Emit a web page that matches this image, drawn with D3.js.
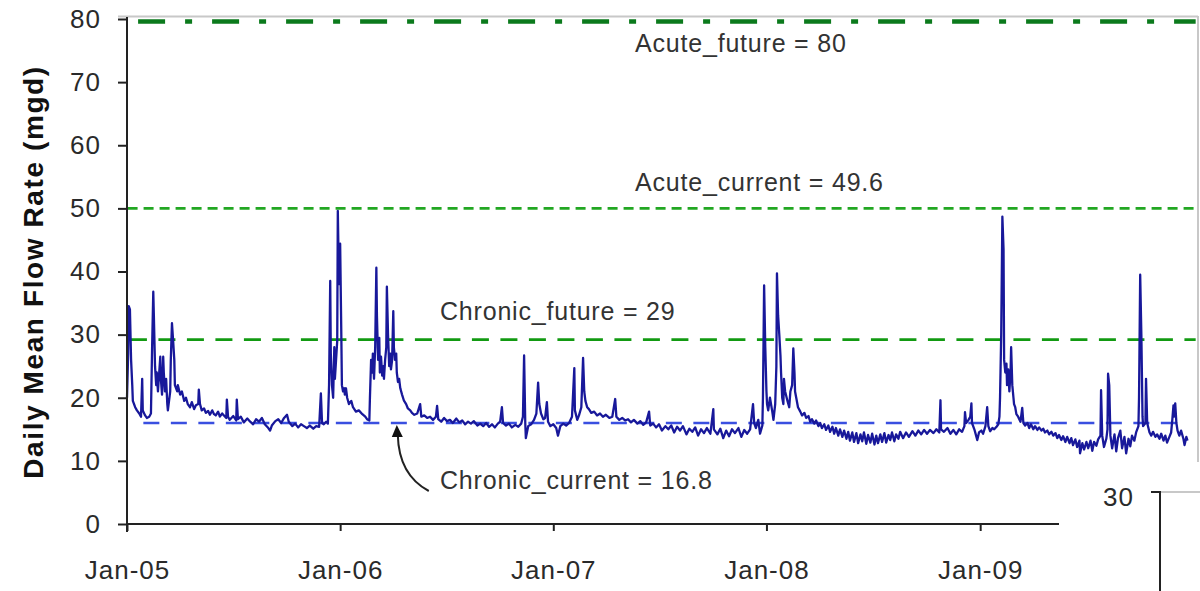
<!DOCTYPE html>
<html>
<head>
<meta charset="utf-8">
<script src="https://cdn.jsdelivr.net/npm/d3@7"></script>
<style>
  html, body { margin: 0; padding: 0; background: #ffffff; }
  svg { display: block; }
  text { font-family: "Liberation Sans", Arial, sans-serif; }
</style>
</head>
<body>
<svg id="chart" width="1200" height="591"></svg>
<script>
// ---------------- DATA ----------------
const startDate = new Date(2005, 0, 1);
const endDate = new Date(2010, 0, 9);
// x tick labels (January of each year)
const tickYears = [2005, 2006, 2007, 2008, 2009];
const tickLabels = ["Jan-05", "Jan-06", "Jan-07", "Jan-08", "Jan-09"];
// y ticks
const yTicks = [0, 10, 20, 30, 40, 50, 60, 70, 80];

// daily mean flow: [days since 1 Jan 2005, mgd]
const flowSeries = [
[0,20],[2,27],[3,34.5],[5,34],[7,26],[9,22],[10,19.5],[14,18.5],[17,18],[21,17.5],[24,17],[26,23],[27,18],[31,17.2],[34,16.8],[38,17],[41,17.5],[43,28],[45,36.8],[46,33],[48,25],[50,22],[51,24],[53,21],[57,26.5],[58,23],[60,20.5],[62,26.5],[63,24],[65,21],[67,23],[69,19],[70,18],[74,21],[75,26],[77,31.8],[79,29],[81,26],[82,22],[86,21],[87,22],[91,20.5],[94,21],[98,19.5],[101,20],[104,19],[108,18.5],[111,19.3],[115,18.2],[118,18.8],[122,19],[123,21.3],[125,19],[128,18],[132,18.3],[135,17.6],[139,17.9],[142,17.3],[146,18],[149,17.4],[152,17.2],[156,17.8],[159,17],[163,17.5],[166,17.2],[170,16.8],[171,19.7],[173,17],[176,16.5],[182,17.1],[187,16.4],[188,19.7],[190,16.6],[195,17],[200,16.1],[206,16.7],[211,16.2],[216,15.8],[221,16.6],[226,16.2],[231,16.8],[236,15.8],[242,15.2],[245,14.8],[248,15.6],[254,16.3],[259,16.6],[264,16],[269,16.8],[274,17.3],[277,16.2],[283,15.5],[288,15.9],[293,15.3],[298,15.8],[303,15.5],[308,15.2],[313,15.6],[319,15.1],[324,15.5],[329,15.4],[332,20.7],[334,16],[337,15.8],[341,16.2],[344,15.9],
[346,22],[348,38.5],[349,27],[351,22],[353,20],[355,28],[356,23],[358,26],[360,29],[361,49.6],[363,38],[365,44.4],[367,30],[368,22],[370,21],[372,21.5],[373,20.5],[375,21.5],[377,20],[380,19],[384,19.5],[387,18.5],[392,17.8],[397,18],[403,17.4],[408,17],[411,16.6],[415,16.4],[416,20],[418,26],[420,24],[421,27],[423,23],[425,28],[427,40.6],[428,33],[430,26],[432,29.5],[433,24],[435,26.5],[437,23.5],[439,25],[440,23],[442,26],[444,28],[445,37.6],[447,30],[449,25],[451,27],[452,24.5],[454,26],[456,33.7],[457,28],[459,26],[461,27],[462,24],[464,22.5],[466,23],[468,21.5],[471,20.5],[474,19.6],[478,19],[481,18.3],[485,18],[488,17.6],[492,17.3],[497,17.5],[502,19],[504,17],[509,17.2],[514,16.8],[519,17],[524,16.5],[529,17],[531,18.7],[533,16.6],[538,16.2],[543,16.8],[548,16.3],[553,16.5],[558,16],[564,16.7],[569,16.1],[574,16.4],[579,15.8],[584,16.2],[589,15.9],[594,16.3],[600,15.6],[605,15.9],[610,15.5],[615,16],[620,15.4],[625,15.8],[630,15.3],[635,15.9],[639,16.2],[642,18.5],[644,16],[649,15.6],[654,15.9],[659,15.3],[665,15.7],[670,15.4],[675,15.9],[678,17],[680,26.7],[682,16],[683,13.6],[687,15.5],[692,15.8],[697,16.5],[701,17.5],[704,22.4],[706,19],[709,17.5],[713,16.6],[716,16.8],[719,19.3],[721,16.2],[725,15.5],
[730,15.8],[735,15.2],[738,14],[742,15.5],[747,15.9],[752,15.6],[757,16],[762,17],[766,24.7],[767,18],[771,16.5],[774,17.2],[778,18.5],[781,26.3],[783,21],[785,19.5],[788,18.5],[791,18.2],[795,17.6],[800,17.8],[805,17.2],[810,17.5],[815,17],[820,17.3],[826,16.8],[831,17],[836,19.8],[838,17],[843,16.5],[848,16.8],[853,16.4],[858,16.6],[863,16.1],[868,16.5],[874,15.9],[879,16.3],[884,15.7],[889,16.1],[894,17.8],[896,15.6],[901,15.9],[906,15.3],[911,15.8],[916,14.8],[922,15.5],[927,15],[932,15.6],[937,14.5],[942,15.4],[947,14.8],[952,15.5],[958,14.2],[963,15.1],[968,14.6],[973,15.3],[978,14],[983,15],[988,14.4],[993,15.2],[999,14.3],[1004,18.2],[1005,15],[1011,14.2],[1016,15.1],[1021,13.6],[1026,14.8],[1031,13.9],[1036,15],[1041,14.4],[1047,15.2],[1052,13.8],[1057,14.9],[1062,14.3],[1067,15],[1072,19],[1074,16],[1077,15.2],[1081,16.5],[1084,14.3],[1088,15.6],
[1089,20],[1091,37.8],[1093,28],[1095,21],[1096,19],[1098,18],[1101,20],[1105,17.8],[1107,16.5],[1110,19],[1112,25],[1113,39.7],[1115,33],[1117,30],[1119,26.7],[1120,24],[1122,20],[1124,19],[1125,23],[1127,21],[1131,19.5],[1134,18.5],[1136,21],[1139,22],[1141,27.8],[1143,24],[1144,21],[1146,20],[1149,18.5],[1153,17.8],[1156,17.2],[1160,17.6],[1163,16.8],[1167,17.1],[1170,16.2],[1173,16.6],[1177,15.9],[1180,16.4],[1184,15.5],[1187,16],[1190,15.2],[1194,15.8],[1197,14.9],[1201,15.6],[1204,14.6],[1208,15.4],[1211,14.3],[1214,15.2],[1218,14],[1221,15],[1225,13.8],[1228,14.8],[1232,13.5],[1235,14.6],[1238,13.2],[1242,14.5],[1245,13],[1249,14.4],[1252,12.8],[1256,14.2],[1259,13.1],[1262,14.5],[1266,12.7],[1269,14.1],[1273,12.9],[1276,14.3],[1280,12.6],[1283,14],[1286,12.8],[1290,14.2],[1293,13],[1297,14.4],[1300,12.9],[1304,14.1],[1307,13.3],[1310,14.5],[1314,13.1],[1317,14.2],[1321,13.5],[1324,14.6],[1329,13.6],[1334,14.5],[1339,13.8],[1345,14.7],[1350,14],[1355,14.8],[1360,14.2],[1365,14.9],[1370,14.3],[1375,14.9],[1381,14.4],[1386,15],[1391,14.5],[1393,19.6],[1394,15],[1399,14.6],[1405,15.2],[1410,14.3],[1415,14.9],[1420,14.2],[1425,15],[1430,14.6],[1434,15.5],[1435,17.7],[1437,16],[1441,16.5],[1444,17],[1446,19.1],[1447,16],[1451,15],[1454,14],[1456,13.3],[1459,14.5],[1463,14.8],[1466,14.3],[1470,15.5],[1473,18.5],[1475,15.5],[1478,14.7],[1482,15.2],[1485,15],[1489,15.4],[1492,15.8],[1494,17],
[1495,20],[1497,30],[1499,48.7],[1501,43.6],[1502,26],[1504,24],[1506,25.4],[1507,22],[1509,24.5],[1511,21],[1513,24],[1514,28],[1516,22],[1518,20],[1519,19],[1521,18.5],[1523,17.4],[1526,17],[1530,16.2],[1533,18.4],[1535,16],[1538,15.6],[1542,16],[1545,15.2],[1548,15.8],[1552,15],[1555,15.5],[1559,14.9],[1562,15.3],[1566,14.8],[1569,15.1],[1572,14.5],[1576,14.8],[1579,14.2],[1583,14.6],[1586,14],[1590,14.4],[1593,13.6],[1596,14.1],[1600,13.3],[1603,13.9],[1607,13],[1610,13.8],[1614,12.8],[1617,13.6],[1620,12.5],[1624,13.4],[1627,12.2],[1631,13.2],[1632,11.2],[1636,12.8],[1639,11.8],[1643,13],[1646,12],[1650,13.2],[1653,11.6],[1656,13],[1660,12.4],[1663,13.4],[1667,14],[1668,21.2],[1670,14],[1673,12.2],[1677,13.5],[1679,15],[1680,23.8],[1682,22],[1684,14],[1687,12],[1691,14.2],[1694,11.5],[1697,13.6],[1701,14.8],[1704,12],[1708,13.8],[1711,11.2],[1715,13.5],[1718,12.3],[1721,14],[1725,13.2],[1728,14.5],[1732,15.5],[1733,20],[1735,39.5],[1737,30],[1739,17],[1740,15.5],[1744,16],[1745,23],[1747,16],[1751,14.5],[1754,14],[1757,14.6],[1761,13.8],[1764,14.2],[1768,13.5],[1771,14.3],[1775,13.2],[1778,14],[1781,12.9],[1785,13.8],[1788,14.5],[1790,16.5],[1792,18.8],[1793,17],[1795,19.1],[1797,16],[1799,14.8],[1802,14],[1805,14.8],[1809,13.5],[1811,12.5],[1814,13.8],[1816,13.2]
];

// threshold lines
const thresholdNames  = ["Acute_future", "Acute_current", "Chronic_future", "Chronic_current"];
const thresholdValues = [80, 49.6, 29, 16.8];        // values in the labels
const thresholdDrawn  = [79.6, 50, 29.2, 16];        // levels as drawn in the figure
const thresholdSpan   = [[19, 1830], [1, 1830], [5, 1830], [28, 1816]]; // days covered

// fragment of neighbouring chart
const fragmentTick = ["30"];

// ---------------- CHART ----------------
const svg = d3.select("#chart");
const pL = 127, pR = 1198, pT = 19, pB = 524;

const x = d3.scaleTime().domain([startDate, endDate]).range([pL, pR]);
const y = d3.scaleLinear().domain([0, 80]).range([pB, pT]);
const dayToDate = d => d3.timeDay.offset(startDate, d);

// plot frame (light grey top and right borders)
svg.append("line").attr("x1", 118).attr("x2", pR).attr("y1", 16.5).attr("y2", 16.5)
  .attr("stroke", "#c8c8c8").attr("stroke-width", 2);
svg.append("line").attr("x1", pR).attr("x2", pR).attr("y1", 16).attr("y2", 462)
  .attr("stroke", "#c8c8c8").attr("stroke-width", 2);

// threshold lines
const tStyles = [
  { color: "#0b7a1c", width: 4.5, dash: "27,20,7,20" },
  { color: "#22a722", width: 2.6, dash: "10,6" },
  { color: "#129a12", width: 2.8, dash: "17,11.5" },
  { color: "#3a4fe0", width: 2.6, dash: "16,11.5" }
];
thresholdNames.forEach((name, i) => {
  const [d0, d1] = thresholdSpan[i];
  svg.append("line")
    .attr("x1", x(dayToDate(d0))).attr("x2", x(dayToDate(d1)))
    .attr("y1", y(thresholdDrawn[i])).attr("y2", y(thresholdDrawn[i]))
    .attr("stroke", tStyles[i].color)
    .attr("stroke-width", tStyles[i].width)
    .attr("stroke-dasharray", tStyles[i].dash);
});

// flow series
const flowLine = d3.line()
  .x(d => x(dayToDate(d[0])))
  .y(d => y(d[1]));
svg.append("path")
  .datum(flowSeries)
  .attr("d", flowLine)
  .attr("fill", "none")
  .attr("stroke", "#18189a")
  .attr("stroke-width", 2.3)
  .attr("stroke-linejoin", "round");

// threshold labels
const labelPos = [[635, 52], [635, 191], [440, 320], [440, 489]];
thresholdNames.forEach((name, i) => {
  svg.append("text")
    .attr("x", labelPos[i][0]).attr("y", labelPos[i][1])
    .attr("font-size", 25).attr("letter-spacing", 0.8)
    .attr("fill", "#333")
    .text(name + " = " + thresholdValues[i]);
});

// arrow to Chronic_current
const tipX = x(dayToDate(462)), tipY = y(thresholdDrawn[3]) + 2;
svg.append("path")
  .attr("d", `M${tipX + 32},${tipY + 66} Q${tipX + 2},${tipY + 50} ${tipX + 1},${tipY + 10}`)
  .attr("fill", "none").attr("stroke", "#222").attr("stroke-width", 2);
svg.append("path")
  .attr("d", `M${tipX},${tipY} L${tipX - 5},${tipY + 12} L${tipX + 6},${tipY + 12} Z`)
  .attr("fill", "#111");

// y axis
const yAxis = d3.axisLeft(y).tickValues(yTicks).tickSize(9).tickPadding(17);
const gy = svg.append("g").attr("transform", `translate(${pL},0)`).call(yAxis);
gy.select(".domain").remove();
gy.selectAll(".tick line").attr("stroke", "#222").attr("stroke-width", 2);
gy.selectAll(".tick text").attr("font-size", 26).attr("letter-spacing", 1)
  .attr("fill", "#2a2a2a").attr("font-family", "Liberation Sans, Arial, sans-serif");
svg.append("line").attr("x1", pL).attr("x2", pL).attr("y1", pT - 2).attr("y2", pB + 8)
  .attr("stroke", "#222").attr("stroke-width", 2);

// x axis
const xTickDates = tickYears.map(yr => new Date(yr, 0, 1));
const xAxis = d3.axisBottom(x).tickValues(xTickDates)
  .tickFormat((d, i) => tickLabels[i]).tickSize(7).tickPadding(30);
const gx = svg.append("g").attr("transform", `translate(0,${pB})`).call(xAxis);
gx.select(".domain").remove();
gx.selectAll(".tick line").attr("stroke", "#222").attr("stroke-width", 2);
gx.selectAll(".tick text").attr("font-size", 26).attr("letter-spacing", 1)
  .attr("fill", "#2a2a2a").attr("font-family", "Liberation Sans, Arial, sans-serif");
svg.append("line").attr("x1", pL).attr("x2", 1059).attr("y1", pB).attr("y2", pB)
  .attr("stroke", "#222").attr("stroke-width", 2);

// y axis title
svg.append("text")
  .attr("transform", "translate(43,272) rotate(-90)")
  .attr("text-anchor", "middle")
  .attr("font-size", 28).attr("font-weight", "bold").attr("letter-spacing", 1.6)
  .attr("fill", "#111")
  .text("Daily Mean Flow Rate (mgd)");

// fragment of neighbouring chart (bottom right)
svg.append("line").attr("x1", 1160).attr("x2", 1200).attr("y1", 492).attr("y2", 492)
  .attr("stroke", "#c8c8c8").attr("stroke-width", 2);
svg.append("line").attr("x1", 1151).attr("x2", 1160).attr("y1", 492).attr("y2", 492)
  .attr("stroke", "#222").attr("stroke-width", 2);
svg.append("line").attr("x1", 1160).attr("x2", 1160).attr("y1", 491).attr("y2", 591)
  .attr("stroke", "#222").attr("stroke-width", 2);
svg.append("text").attr("x", 1134).attr("y", 506).attr("text-anchor", "end")
  .attr("font-size", 26).attr("letter-spacing", 1).attr("fill", "#2a2a2a")
  .text(fragmentTick[0]);
</script>
</body>
</html>
